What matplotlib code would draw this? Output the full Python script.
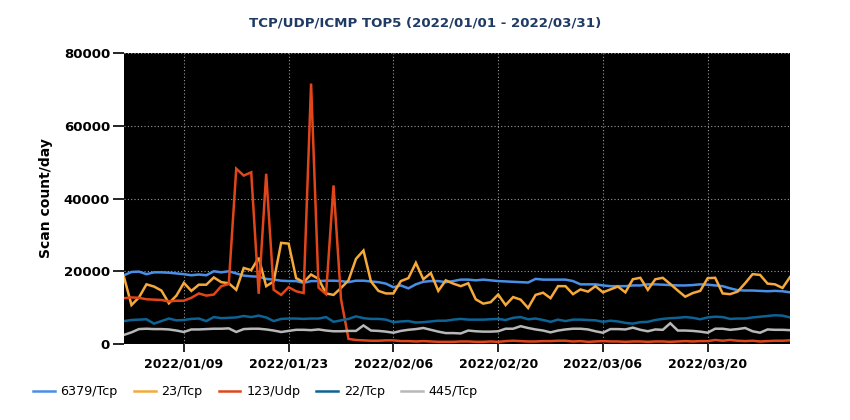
import matplotlib
matplotlib.use("Agg")
import matplotlib.pyplot as plt
import matplotlib.dates as mdates
import numpy as np
import pandas as pd

dates = pd.date_range("2022-01-01", "2022-03-31", freq="D")

s6379 = [18.9, 19.8, 19.9, 19.2, 19.7, 19.7, 19.6, 19.4, 19.2, 18.9, 19.1, 18.9, 20.0, 19.7, 20.0, 19.4,
         18.8, 18.6, 18.5, 17.9, 17.7, 17.4, 17.3, 17.3, 16.8, 17.3, 17.3, 17.4, 17.4, 17.3, 17.0, 17.4,
         17.4, 17.2, 17.0, 16.6, 15.6, 16.1, 15.3, 16.4, 17.1, 17.3, 17.3, 17.0, 17.3, 17.7, 17.7, 17.5,
         17.7, 17.5, 17.3, 17.2, 17.1, 17.0, 16.9, 17.9, 17.7, 17.7, 17.7, 17.7, 17.3, 16.4, 16.4, 16.4,
         16.1, 15.9, 15.9, 15.9, 16.1, 16.1, 16.4, 16.4, 16.3, 16.2, 16.1, 16.1, 16.2, 16.4, 16.3, 16.1,
         15.9, 15.3, 14.8, 14.7, 14.7, 14.6, 14.5, 14.6, 14.5, 14.2]
s23 = [18.4, 10.7, 12.8, 16.4, 15.8, 14.7, 11.2, 13.3, 16.8, 14.6, 16.3, 16.3, 18.3, 17.0, 16.7, 14.9,
       20.9, 20.3, 23.7, 15.9, 17.2, 27.8, 27.6, 18.1, 17.0, 19.1, 17.9, 13.9, 13.5, 15.4, 17.5, 23.4,
       25.7, 17.2, 14.6, 13.9, 13.9, 17.3, 18.1, 22.3, 17.8, 19.5, 14.6, 17.5, 16.6, 15.9, 16.7, 12.3,
       11.1, 11.5, 13.6, 10.7, 12.9, 12.2, 9.9, 13.5, 14.1, 12.6, 15.9, 15.9, 13.7, 15.0, 14.4, 15.9,
       14.2, 15.0, 15.8, 14.2, 17.8, 18.2, 14.9, 17.8, 18.2, 16.5, 14.7, 13.0, 14.0, 14.6, 18.1, 18.2,
       13.9, 13.7, 14.4, 16.7, 19.2, 19.0, 16.6, 16.4, 15.4, 18.4]
s123 = [12.6, 12.8, 12.7, 12.3, 12.2, 12.1, 11.7, 11.9, 11.9, 12.7, 13.9, 13.3, 13.6, 15.9, 16.5, 48.2,
        46.3, 47.2, 13.8, 46.8, 14.9, 13.5, 15.6, 14.5, 14.0, 71.6, 15.5, 13.7, 43.6, 12.3, 1.4, 1.1,
        1.0, 0.9, 0.9, 1.0, 1.0, 0.8, 0.8, 0.7, 0.8, 0.7, 0.6, 0.6, 0.6, 0.7, 0.7, 0.6, 0.6, 0.7,
        0.6, 0.8, 0.9, 0.8, 0.7, 0.7, 0.8, 0.8, 0.9, 0.9, 0.7, 0.8, 0.6, 0.7, 0.8, 0.7, 0.7, 0.6,
        0.7, 0.7, 0.6, 0.7, 0.7, 0.6, 0.7, 0.8, 0.7, 0.8, 0.8, 1.1, 0.9, 1.1, 0.9, 0.8, 0.9, 0.7,
        0.8, 0.9, 0.9, 1.0]
s22 = [6.3, 6.6, 6.7, 6.8, 5.6, 6.3, 7.0, 6.5, 6.6, 6.9, 7.0, 6.3, 7.4, 7.1, 7.2, 7.3, 7.7, 7.4,
       7.8, 7.3, 6.3, 6.9, 7.0, 7.0, 6.9, 7.0, 7.0, 7.4, 6.1, 6.5, 6.9, 7.6, 7.1, 6.9, 6.9, 6.7,
       6.0, 6.2, 6.3, 5.9, 6.0, 6.2, 6.4, 6.4, 6.7, 6.9, 6.7, 6.7, 6.7, 6.8, 6.9, 6.6, 7.2, 7.4,
       6.8, 7.0, 6.6, 6.1, 6.7, 6.3, 6.7, 6.7, 6.6, 6.5, 6.1, 6.4, 6.2, 5.8, 5.6, 6.0, 6.1, 6.6,
       6.9, 7.1, 7.2, 7.4, 7.2, 6.8, 7.3, 7.5, 7.4, 6.9, 7.0, 7.0, 7.3, 7.5, 7.7, 7.9, 7.8, 7.3]
s445 = [2.5, 3.2, 4.1, 4.2, 4.1, 4.1, 4.0, 3.7, 3.3, 4.0, 4.0, 4.1, 4.2, 4.2, 4.3, 3.3, 4.1, 4.2,
        4.2, 4.0, 3.7, 3.3, 3.6, 3.9, 3.9, 3.8, 4.0, 3.7, 3.5, 3.5, 3.6, 3.6, 5.1, 3.7, 3.6, 3.4,
        3.1, 3.6, 3.9, 4.1, 4.4, 3.9, 3.4, 3.0, 3.0, 2.9, 3.7, 3.5, 3.4, 3.4, 3.5, 4.2, 4.2, 4.9,
        4.4, 4.0, 3.7, 3.2, 3.7, 4.0, 4.2, 4.2, 4.0, 3.5, 3.1, 4.1, 4.1, 4.0, 4.5, 3.9, 3.5, 4.0,
        3.9, 5.7, 3.7, 3.7, 3.6, 3.4, 3.1, 4.2, 4.2, 3.9, 4.1, 4.4, 3.5, 3.1, 4.0, 3.9, 3.9, 3.8]

series_names = ["6379/Tcp", "23/Tcp", "123/Udp", "22/Tcp", "445/Tcp"]
series_vals = [s6379, s23, s123, s22, s445]
colors = ["#4a8fe7", "#f5a93a", "#e0461a", "#0c6394", "#b8b8b8"]

tick_dates = pd.to_datetime(["2022-01-09", "2022-01-23", "2022-02-06", "2022-02-20", "2022-03-06", "2022-03-20"])

plt.rcParams['font.family'] = ['DejaVu Sans']

fig = plt.figure(figsize=(8.5, 4.2), dpi=100)
ax = fig.add_axes([124/850, 1-344/420, (790-124)/850, (344-53)/420])
ax.set_facecolor("black")

for name, vals, c in zip(series_names, series_vals, colors):
    ax.plot(dates, np.array(vals) * 1000, color=c, lw=1.8, label=name, solid_joinstyle="miter")

ax.set_xlim(dates[0], dates[-1])
ax.set_ylim(0, 80000)
ax.set_yticks([0, 20000, 40000, 60000, 80000])
ax.set_xticks(tick_dates)
ax.xaxis.set_major_formatter(mdates.DateFormatter("%Y/%m/%d"))
ax.grid(True, color="#9a9a9a", linestyle=(0, (1, 2)), linewidth=0.8)
for sp in ax.spines.values():
    sp.set_visible(False)
ax.tick_params(axis="y", length=8, width=1.2, pad=2, labelsize=9.5)
ax.tick_params(axis="x", length=6, width=1.2, pad=4, labelsize=9)
for lab in ax.get_xticklabels() + ax.get_yticklabels():
    lab.set_fontweight("bold")
ax.set_ylabel("Scan count/day", fontsize=10, fontweight="bold", labelpad=8)

fig.text(0.5, 1-23/420, "TCP/UDP/ICMP TOP5 (2022/01/01 - 2022/03/31)", ha="center", va="center",
         fontsize=9.6, fontweight="bold", color="#1f3b64")

handles, labels = ax.get_legend_handles_labels()
fig.legend(handles, labels, loc="center left", bbox_to_anchor=(0.039, 1-392/420), ncol=5,
           frameon=False, fontsize=9.2, handlelength=1.7, columnspacing=1.25, handletextpad=0.45,
           borderaxespad=0, borderpad=0)

fig.savefig("out.png", dpi=100)
